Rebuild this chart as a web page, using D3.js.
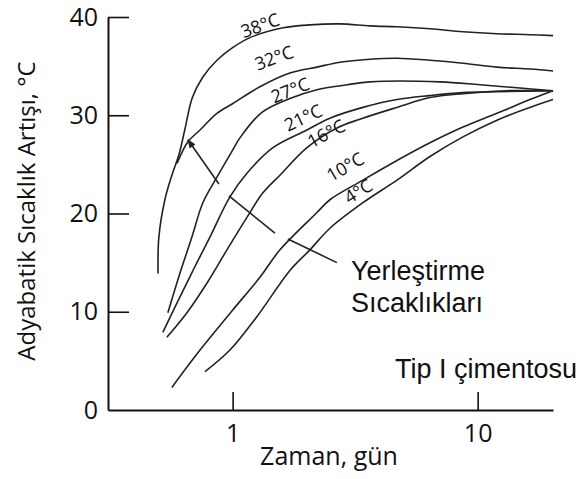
<!DOCTYPE html>
<html>
<head>
<meta charset="utf-8">
<script src="https://cdn.jsdelivr.net/npm/d3@7"></script>
<style>
  body { margin: 0; background: #fff; }
  svg { display: block; }
</style>
</head>
<body>
<script>

    // Tip I çimento, adyabatik sıcaklık artışı (gün, °C) okunan değerler
    const series38 = [[0.496,13.9],[0.500,17.6],[0.529,21.4],[0.565,23.9],[0.604,26.0],[0.639,28.6],[0.685,31.8],
        [0.756,33.9],[0.863,35.6],[1.003,36.9],[1.177,37.9],[1.605,38.9],[2.068,39.2],[2.742,39.3],
        [3.635,39.1],[4.685,39.0],[6.388,38.8],[8.709,38.5],[11.99,38.3],[16.35,38.2],[20.3,38.1]];
    const series32 = [[0.593,25.1],[0.657,27.3],[0.736,28.5],[0.863,30.2],[1.003,31.2],[1.292,32.9],[1.713,34.3],
        [2.209,34.9],[2.742,35.4],[3.635,35.7],[4.685,35.8],[6.388,35.6],[8.709,35.3],[11.99,34.9],
        [16.35,34.7],[20.3,34.5]];
    const series27 = [[0.544,9.9],[0.609,13.9],[0.682,17.6],[0.756,21.1],[0.863,23.7],[1.003,26.5],[1.071,27.7],
        [1.317,30.3],[1.713,31.7],[2.209,32.6],[2.929,33.1],[3.635,33.4],[7.018,33.4],[10.22,33.1],
        [14.47,32.8],[20.3,32.5]];
    const series21 = [[0.519,7.9],[0.593,10.9],[0.689,14.2],[0.808,17.6],[0.975,21.7],[1.144,24.1],[1.461,26.7],
        [2.011,28.5],[2.495,29.7],[3.402,30.8],[4.685,31.6],[6.388,32.0],[8.709,32.3],[11.99,32.4],[20.3,32.5]];
    const series16 = [[0.539,7.4],[0.651,9.9],[0.785,12.9],[0.948,16.3],[1.144,19.6],[1.329,22.1],[1.560,23.9],
        [2.011,26.7],[2.665,28.7],[3.308,29.6],[4.685,30.8],[6.388,31.8],[8.709,32.2],[13.17,32.5],[20.3,32.5]];
    const series10 = [[0.565,2.3],[0.736,6.1],[1.003,10.2],[1.292,13.5],[1.560,16.3],[2.209,20.1],[2.495,21.4],
        [3.402,23.4],[4.685,25.4],[6.388,27.2],[8.709,28.8],[11.99,30.2],[16.35,31.6],[20.3,32.5]];
    const series4 = [[0.771,3.9],[0.975,6.1],[1.256,9.5],[1.713,14.2],[2.068,16.3],[2.495,18.5],[3.402,21.1],
        [4.685,23.4],[6.388,25.8],[8.709,27.8],[11.99,29.5],[16.35,30.8],[20.3,31.6]];

    const curves = [series38, series32, series27, series21, series16, series10, series4];

    // eğri etiketleri: metin, gün, °C, açı
    const curveLabels = [
        ["38°C", 1.292, 39.2, -20],
        ["32°C", 1.474, 35.9, -20],
        ["27°C", 1.713, 32.6, -22],
        ["21°C", 1.936, 29.8, -25],
        ["16°C", 2.403, 28.2, -28],
        ["10°C", 2.873, 24.8, -30],
        ["4°C", 3.246, 22.3, -32]
    ];

    // "Yerleştirme Sıcaklıkları" ok çizgisi parçaları
    const leaderLines = [
        [[0.879, 23.0], [0.657, 27.5]],
        [[0.966, 21.8], [1.488, 18.0]],
        [[1.681, 17.4], [2.665, 15.0]]
    ];

    const yTicks = [0, 10, 20, 30, 40];
    const xTicks = [1, 10];

    const width = 580, height = 479;

    const svg = d3.select("body").append("svg")
        .attr("width", width)
        .attr("height", height);

    const x = d3.scaleLog().domain([0.31, 20.3]).range([108, 553]);
    const y = d3.scaleLinear().domain([0, 40]).range([410, 17]);

    const tickFont = "'Open Sans', sans-serif";

    // eksenler
    const yAxis = svg.append("g")
        .attr("transform", "translate(108,0)")
        .call(d3.axisLeft(y).tickValues(yTicks).tickSizeInner(-21).tickSizeOuter(0).tickPadding(10));
    yAxis.selectAll(".tick line").filter(d => d === 0).remove();

    const xAxis = svg.append("g")
        .attr("transform", "translate(0,410)")
        .call(d3.axisBottom(x).tickValues(xTicks).tickFormat(d3.format("d"))
            .tickSizeInner(-18).tickSizeOuter(0).tickPadding(14));

    svg.selectAll(".domain").attr("stroke", "#111").attr("stroke-width", 2);
    svg.selectAll(".tick line").attr("stroke", "#111").attr("stroke-width", 1.6);
    svg.selectAll(".tick text")
        .attr("font-family", tickFont)
        .attr("font-size", 25)
        .attr("fill", "#111");

    // eğriler
    const line = d3.line()
        .x(d => x(d[0]))
        .y(d => y(d[1]))
        .curve(d3.curveCatmullRom.alpha(0.5));

    svg.append("g").selectAll("path")
        .data(curves)
        .join("path")
        .attr("d", line)
        .attr("fill", "none")
        .attr("stroke", "#222")
        .attr("stroke-width", 1.6);

    svg.append("g").selectAll("text")
        .data(curveLabels)
        .join("text")
        .attr("transform", d => `translate(${x(d[1])},${y(d[2])}) rotate(${d[3]})`)
        .attr("text-anchor", "middle")
        .attr("dominant-baseline", "central")
        .attr("font-family", tickFont)
        .attr("font-size", 18)
        .attr("fill", "#111")
        .text(d => d[0]);

    // ok
    svg.append("defs").append("marker")
        .attr("id", "arrow")
        .attr("viewBox", "0 0 10 10")
        .attr("refX", 9).attr("refY", 5)
        .attr("markerWidth", 9).attr("markerHeight", 9)
        .attr("markerUnits", "userSpaceOnUse")
        .attr("orient", "auto")
        .append("path")
        .attr("d", "M0,1 L10,5 L0,9 Z")
        .attr("fill", "#222");

    svg.append("g").selectAll("line")
        .data(leaderLines)
        .join("line")
        .attr("x1", d => x(d[0][0])).attr("y1", d => y(d[0][1]))
        .attr("x2", d => x(d[1][0])).attr("y2", d => y(d[1][1]))
        .attr("stroke", "#222")
        .attr("stroke-width", 1.6)
        .attr("marker-end", (d, i) => i === 0 ? "url(#arrow)" : null);

    // metinler
    const note = svg.append("text")
        .attr("font-family", "'Liberation Sans', Arial, sans-serif")
        .attr("font-size", 27)
        .attr("fill", "#111");
    note.append("tspan").attr("x", 351).attr("y", 280).text("Yerleştirme");
    note.append("tspan").attr("x", 351).attr("y", 312).text("Sıcaklıkları");

    svg.append("text")
        .attr("x", 395).attr("y", 378)
        .attr("font-family", "'Liberation Sans', Arial, sans-serif")
        .attr("font-size", 27)
        .attr("fill", "#111")
        .text("Tip I çimentosu");

    svg.append("text")
        .attr("x", 329).attr("y", 465)
        .attr("text-anchor", "middle")
        .attr("font-family", tickFont)
        .attr("font-size", 25)
        .attr("fill", "#111")
        .text("Zaman, gün");

    svg.append("text")
        .attr("transform", "translate(35,211) rotate(-90)")
        .attr("text-anchor", "middle")
        .attr("font-family", tickFont)
        .attr("font-size", 24)
        .attr("fill", "#111")
        .text("Adyabatik Sıcaklık Artışı, °C");

</script>
</body>
</html>
